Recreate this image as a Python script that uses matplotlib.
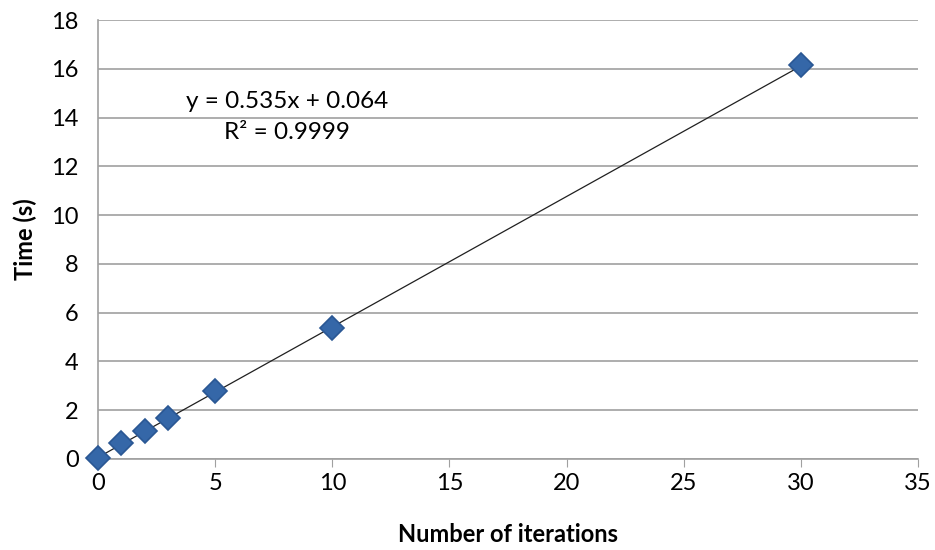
import numpy as np
import matplotlib
matplotlib.use("Agg")
import matplotlib.pyplot as plt

plt.rcParams['font.family'] = ['Lato', 'DejaVu Sans']

# data
iterations = [0, 1, 2, 3, 5, 10, 30]
times = [0.04, 0.64, 1.15, 1.70, 2.80, 5.37, 16.15]
x_ticks = [0, 5, 10, 15, 20, 25, 30, 35]
y_ticks = [0, 2, 4, 6, 8, 10, 12, 14, 16, 18]
slope, intercept = 0.535, 0.064

fig = plt.figure(figsize=(9.35, 5.5), dpi=100)
ax = fig.add_axes([0.1048, 0.1655, 0.877, 0.798])

# trendline
xs = np.array([min(iterations), max(iterations)])
ax.plot(xs, slope * xs + intercept, color='#202020', lw=0.9, zorder=3)

ax.plot(iterations, times, linestyle='none', marker='D', markersize=12,
        markerfacecolor='#3567A8', markeredgecolor='#2A5794', markeredgewidth=1.2,
        zorder=4, clip_on=False)

ax.set_xlim(0, 35)
ax.set_ylim(0, 18)
ax.set_xticks(x_ticks)
ax.set_yticks(y_ticks)
ax.yaxis.grid(True, color='#A0A0A0', lw=1.2)
ax.set_axisbelow(True)

for s in ['top', 'right']:
    ax.spines[s].set_visible(False)
for s in ['left', 'bottom']:
    ax.spines[s].set_color('#A0A0A0')
    ax.spines[s].set_linewidth(1.2)

ax.tick_params(axis='x', direction='out', length=6, color='#A0A0A0', labelsize=17, pad=4)
ax.tick_params(axis='y', length=0, labelsize=17, pad=14)

ax.set_xlabel('Number of iterations', fontsize=17, fontweight='bold', labelpad=21)
ax.set_ylabel('Time (s)', fontsize=17, fontweight='bold', labelpad=10)

ax.text(8.07, 14.02, 'y = 0.535x + 0.064\nR² = 0.9999', ha='center', va='center',
        fontsize=17.5, linespacing=1.55)

fig.savefig('out.png', dpi=100)
